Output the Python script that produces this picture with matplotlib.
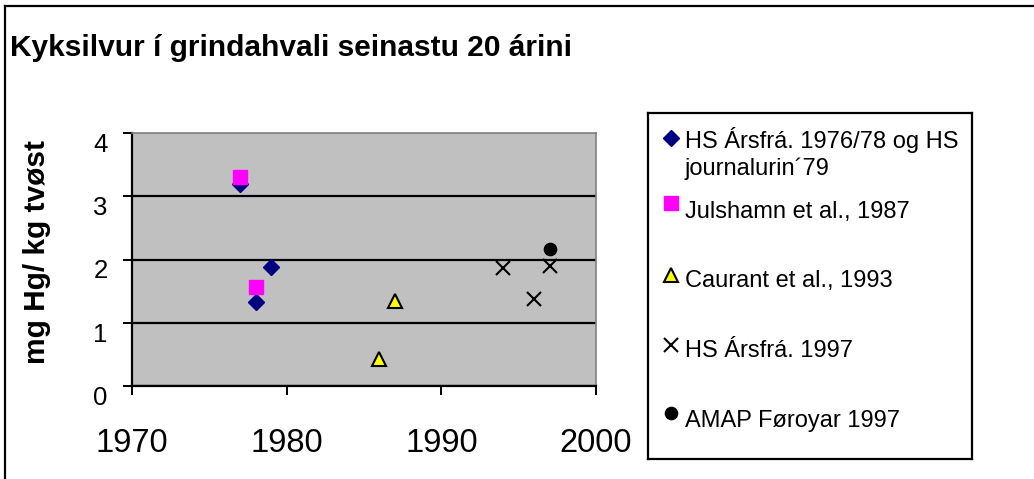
import matplotlib
matplotlib.use("Agg")
import matplotlib.pyplot as plt
from matplotlib.lines import Line2D

plt.rcParams['font.family'] = ['Liberation Sans', 'DejaVu Sans']

# data
hs7679_x = [1977, 1978, 1979]
hs7679_y = [3.2, 1.33, 1.88]
julshamn_x = [1977, 1978]
julshamn_y = [3.3, 1.57]
caurant_x = [1986, 1987]
caurant_y = [0.42, 1.35]
hs97_x = [1994, 1996, 1997]
hs97_y = [1.87, 1.37, 1.89]
amap_x = [1997]
amap_y = [2.17]

labels = ["HS Ársfrá. 1976/78 og HS\njournalurin´79",
          "Julshamn et al., 1987",
          "Caurant et al., 1993",
          "HS Ársfrá. 1997",
          "AMAP Føroyar 1997"]
xticks = [1970, 1980, 1990, 2000]
yticks = [0, 1, 2, 3, 4]

W, H = 1034, 479
fig = plt.figure(figsize=(W / 100, H / 100), dpi=100)

# outer frame (only top and left edges visible)
fig.add_artist(Line2D([5 / W, 1], [1 - 6 / H, 1 - 6 / H], color='black', lw=1.6))
fig.add_artist(Line2D([5 / W, 5 / W], [0, 1 - 6 / H], color='black', lw=1.6))

fig.text(10 / W, 1 - 56 / H, "Kyksilvur í grindahvali seinastu 20 árini",
         fontsize=21.5, fontweight='bold', ha='left', va='baseline')

ax = fig.add_axes([132 / W, 93 / H, 464 / W, 253 / H])
ax.set_facecolor('#c0c0c0')
ax.set_xlim(1970, 2000)
ax.set_ylim(0, 4)
ax.set_xticks(xticks)
ax.set_yticks(yticks)
ax.yaxis.grid(True, color='black', lw=1.6)
ax.get_ygridlines()[-1].set_visible(False)
ax.set_axisbelow(True)
for s in ['left', 'bottom']:
    ax.spines[s].set_color('black')
    ax.spines[s].set_linewidth(1.6)
for s in ['top', 'right']:
    ax.spines[s].set_color('#808080')
    ax.spines[s].set_linewidth(1.2)
ax.tick_params(axis='x', direction='out', length=6.5, width=1.4, labelsize=23.5, pad=24)
ax.tick_params(axis='y', direction='out', length=6.5, width=1.4, labelsize=18.5, pad=11)
for t in ax.get_yticklabels():
    t.set_verticalalignment('top')

styles = [
    dict(marker='D', color='#000080', mec='#000080', ms=8, mew=1),
    dict(marker='s', color='#ff00ff', mec='#ff00ff', ms=9.5, mew=1),
    dict(marker='^', color='#ffff00', mec='black', ms=10, mew=1.5),
    dict(marker='x', color='black', mec='black', ms=9.5, mew=1.5),
    dict(marker='o', color='black', mec='black', ms=8.8, mew=1),
]
series = [(hs7679_x, hs7679_y), (julshamn_x, julshamn_y), (caurant_x, caurant_y),
          (hs97_x, hs97_y), (amap_x, amap_y)]
for (xs, ys), st in zip(series, styles):
    ax.plot(xs, ys, linestyle='none', clip_on=False, zorder=3, **st)

fig.text(37 / W, 1 - 252 / H, "mg Hg/ kg tvøst", rotation=90, fontsize=21.5,
         fontweight='bold', ha='center', va='center')

# legend box, laid out in pixel units
lax = fig.add_axes([648 / W, (H - 459) / H, 324 / W, 346 / H])
lax.set_xlim(648, 972)
lax.set_ylim(459, 113)
lax.set_xticks([])
lax.set_yticks([])
for s in lax.spines.values():
    s.set_linewidth(1.6)
key_y = [138, 203, 274.5, 344.5, 412.5]
text_y = [175.5, 218.3, 287.3, 357.3, 426.7]  # baseline of each label's last line
for st, ky, ty, lab in zip(styles, key_y, text_y, labels):
    lax.plot([671], [ky], linestyle='none', **st)
    lax.text(685, ty, lab, fontsize=17, ha='left', va='baseline', linespacing=1.3)

fig.savefig('out.png', dpi=100)
